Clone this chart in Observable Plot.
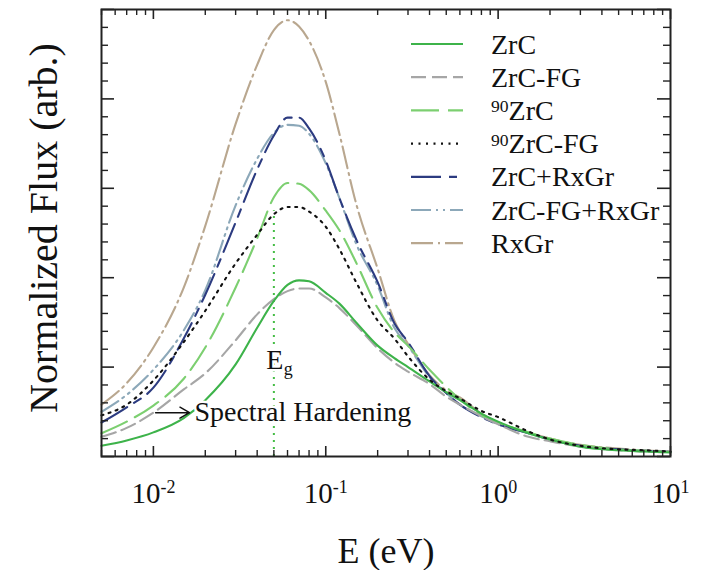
<!DOCTYPE html>
<html><head><meta charset="utf-8">
<script src="https://cdn.jsdelivr.net/npm/d3@7"></script>
<script src="https://cdn.jsdelivr.net/npm/@observablehq/plot@0.6"></script>
<style>html,body{margin:0;padding:0;background:#fff;overflow:hidden}</style>
</head><body><div id="chart"></div>
<script>
// Energy grid (eV)
const energy = [0.005, 0.007, 0.01, 0.015, 0.02, 0.03, 0.04, 0.05, 0.06, 0.07, 0.08, 0.1, 0.12, 0.15, 0.2, 0.25, 0.3, 0.4, 0.5, 0.6, 0.8, 1, 1.5, 2, 3, 5, 7, 10];
// Normalized flux (arb.) per series
const fluxZrC      = [0.12, 0.18, 0.27, 0.43, 0.63, 1.03, 1.44, 1.74, 1.92, 1.97, 1.96, 1.83, 1.71, 1.50, 1.24, 1.10, 1.00, 0.84, 0.72, 0.63, 0.48, 0.39, 0.26, 0.19, 0.11, 0.07, 0.056, 0.045];
const fluxZrCFG    = [0.22, 0.32, 0.49, 0.75, 0.93, 1.30, 1.59, 1.76, 1.85, 1.88, 1.88, 1.78, 1.66, 1.47, 1.21, 1.05, 0.95, 0.81, 0.67, 0.58, 0.45, 0.36, 0.22, 0.17, 0.11, 0.07, 0.056, 0.045];
const flux90ZrC    = [0.26, 0.39, 0.57, 0.87, 1.22, 1.89, 2.44, 2.90, 3.06, 3.05, 2.98, 2.75, 2.53, 2.17, 1.66, 1.39, 1.24, 0.97, 0.78, 0.64, 0.46, 0.38, 0.27, 0.20, 0.13, 0.08, 0.065, 0.05];
const flux90ZrCFG  = [0.46, 0.58, 0.85, 1.28, 1.63, 2.16, 2.48, 2.71, 2.79, 2.79, 2.74, 2.57, 2.32, 1.95, 1.52, 1.32, 1.12, 0.86, 0.73, 0.65, 0.51, 0.44, 0.28, 0.19, 0.12, 0.08, 0.07, 0.056];
const fluxZrCRx    = [0.38, 0.55, 0.77, 1.32, 1.81, 2.62, 3.21, 3.59, 3.79, 3.79, 3.67, 3.31, 2.89, 2.43, 1.95, 1.49, 1.28, 0.90, 0.71, 0.58, 0.44, 0.36, 0.26, 0.19, 0.12, 0.08, 0.065, 0.05];
const fluxZrCFGRx  = [0.50, 0.69, 0.97, 1.41, 1.86, 2.81, 3.33, 3.62, 3.71, 3.70, 3.61, 3.28, 2.89, 2.38, 1.91, 1.44, 1.24, 0.89, 0.71, 0.58, 0.45, 0.36, 0.26, 0.19, 0.12, 0.08, 0.065, 0.05];
const fluxRxGr     = [0.58, 0.82, 1.22, 1.89, 2.58, 3.72, 4.38, 4.77, 4.88, 4.81, 4.65, 4.19, 3.61, 2.83, 2.10, 1.52, 1.26, 0.91, 0.74, 0.66, 0.48, 0.38, 0.27, 0.20, 0.13, 0.09, 0.07, 0.056];

const seriesNames  = ["ZrC", "ZrC-FG", "90ZrC", "90ZrC-FG", "ZrC+RxGr", "ZrC-FG+RxGr", "RxGr"];
const seriesValues = [fluxZrC, fluxZrCFG, flux90ZrC, flux90ZrCFG, fluxZrCRx, fluxZrCFGRx, fluxRxGr];
const seriesColors = ["#3db34a", "#a6a6a6", "#7ccf70", "#111111", "#2c3b80", "#8ca8b9", "#b9a78f"];
const seriesDash   = ["none", "15,6", "28,9", "2,5.5", "30,8,8,8", "20,5,2,5,2,5", "22,5,2,5"];

// Axis ticks
const xMajor = [0.01, 0.1, 1, 10];
const xTickExp = ["-2", "-1", "0", "1"];
const xMinor = [0.005, 0.006, 0.007, 0.008, 0.009, 0.02, 0.03, 0.04, 0.05, 0.06, 0.07, 0.08, 0.09, 0.2, 0.3, 0.4, 0.5, 0.6, 0.7, 0.8, 0.9, 2, 3, 4, 5, 6, 7, 8, 9];
const yMajor = [0, 1, 2, 3, 4, 5];
const yMinor = [0.2, 0.4, 0.6, 0.8, 1.2, 1.4, 1.6, 1.8, 2.2, 2.4, 2.6, 2.8, 3.2, 3.4, 3.6, 3.8, 4.2, 4.4, 4.6, 4.8];

// Annotations
const egLine = [{E: 0.05, top: 2.75}];
const egLabel = [{E: 0.05, y: 0.98}];
const hardeningArrow = [{x1: 0.0103, x2: 0.0162, y: 0.49}];
const hardeningLabel = [{E: 0.0173, y: 0.5, text: "Spectral Hardening"}];

const W = 707, H = 570, ML = 101, MR = 37, MT = 9, MB = 114;
const IW = W - ML - MR, IH = H - MT - MB;
const FONT = "'Liberation Serif', 'Times New Roman', serif";
const AX = "#222";

const rows = seriesNames.map((name, s) => energy.map((E, i) => ({E, flux: seriesValues[s][i], series: name})));

const lineMarks = [];
[6, 5, 4, 2, 1, 0, 3].forEach(s => {
  lineMarks.push(Plot.line(rows[s], {
    x: "E", y: "flux", stroke: seriesColors[s], strokeWidth: 2.1,
    strokeDasharray: seriesDash[s] === "none" ? null : seriesDash[s],
    curve: "monotone-x"
  }));
});

const xLabels = xMajor.map((v, i) => ({E: v, exp: xTickExp[i]}));

const chart = Plot.plot({
  width: W, height: H,
  marginLeft: ML, marginRight: MR, marginTop: MT, marginBottom: MB,
  style: {fontFamily: FONT, background: "#fff", color: "#111"},
  x: {type: "log", domain: [0.005, 10], axis: null},
  y: {domain: [0, 5], axis: null},
  marks: [
    Plot.ruleX(egLine, {x: "E", y1: 0, y2: "top", stroke: "#45bd45", strokeWidth: 2, strokeDasharray: "2,5"}),
    ...lineMarks,
    Plot.text(egLabel, {x: "E", y: "y", text: () => "E", fontSize: 28, lineAnchor: "bottom", dx: 1, stroke: "white", strokeWidth: 5, fill: "#111"}),
    Plot.text(egLabel, {x: "E", y: "y", text: () => "g", fontSize: 18, lineAnchor: "bottom", textAnchor: "start", dx: 10, dy: 6, fill: "#111"}),
    Plot.text(hardeningLabel, {x: "E", y: "y", text: "text", fontSize: 28, textAnchor: "start", stroke: "white", strokeWidth: 5, fill: "#111"}),
    Plot.arrow(hardeningArrow, {x1: "x1", x2: "x2", y1: "y", y2: "y", stroke: "#111", strokeWidth: 1.5, headLength: 11}),
    // ticks (inward) on all four sides
    Plot.ruleX(xMajor, {x: d => d, insetTop: IH - 10, stroke: AX, strokeWidth: 1.6}),
    Plot.ruleX(xMinor, {x: d => d, insetTop: IH - 6, stroke: AX, strokeWidth: 1.4}),
    Plot.ruleX(xMajor, {x: d => d, insetBottom: IH - 10, stroke: AX, strokeWidth: 1.6}),
    Plot.ruleX(xMinor, {x: d => d, insetBottom: IH - 6, stroke: AX, strokeWidth: 1.4}),
    Plot.ruleY(yMajor, {y: d => d, insetRight: IW - 13, stroke: AX, strokeWidth: 1.6}),
    Plot.ruleY(yMinor, {y: d => d, insetRight: IW - 7, stroke: AX, strokeWidth: 1.4}),
    Plot.ruleY(yMajor, {y: d => d, insetLeft: IW - 13, stroke: AX, strokeWidth: 1.6}),
    Plot.ruleY(yMinor, {y: d => d, insetLeft: IW - 7, stroke: AX, strokeWidth: 1.4}),
    Plot.frame({stroke: AX, strokeWidth: 2}),
    Plot.text(xLabels, {x: "E", frameAnchor: "bottom", dy: 46, lineAnchor: "bottom", fontSize: 29, fill: "#111",
      text: d => "10^" + d.exp})
  ]
});
document.getElementById("chart").appendChild(chart);

const svg = d3.select(chart);
// superscript exponents in tick labels
svg.selectAll("text").each(function () {
  const s = this.textContent;
  if (this.childElementCount === 0 && s.startsWith("10^")) {
    const t = d3.select(this);
    t.text(null);
    t.append("tspan").text("10");
    t.append("tspan").attr("font-size", 18).attr("dy", -9.5).text(s.slice(3));
  }
});

// axis titles
svg.append("text").attr("x", 386).attr("y", 563).attr("text-anchor", "middle")
  .attr("font-family", FONT).attr("font-size", 36).attr("fill", "#111").text("E (eV)");
svg.append("text").attr("transform", "translate(57,228) rotate(-90)").attr("text-anchor", "middle")
  .attr("font-family", FONT).attr("font-size", 40).attr("fill", "#111").text("Normalized Flux (arb.)");

// legend
const lg = svg.append("g").attr("font-family", FONT).attr("fill", "#111").attr("text-anchor", "start");
seriesNames.forEach((name, i) => {
  const y = 44 + i * 33.2;
  lg.append("line").attr("x1", 411).attr("x2", 463).attr("y1", y).attr("y2", y)
    .attr("stroke", seriesColors[i]).attr("stroke-width", 2.2)
    .attr("stroke-dasharray", seriesDash[i] === "none" ? null : seriesDash[i]);
  const t = lg.append("text").attr("x", 491).attr("y", y + 9.5).attr("font-size", 28).attr("text-anchor", "start");
  if (name.startsWith("90")) {
    t.append("tspan").attr("font-size", 17.6).attr("dy", -7.5).text("90");
    t.append("tspan").attr("dy", 7.5).text(name.slice(2));
  } else {
    t.text(name);
  }
});
</script>
</body></html>
